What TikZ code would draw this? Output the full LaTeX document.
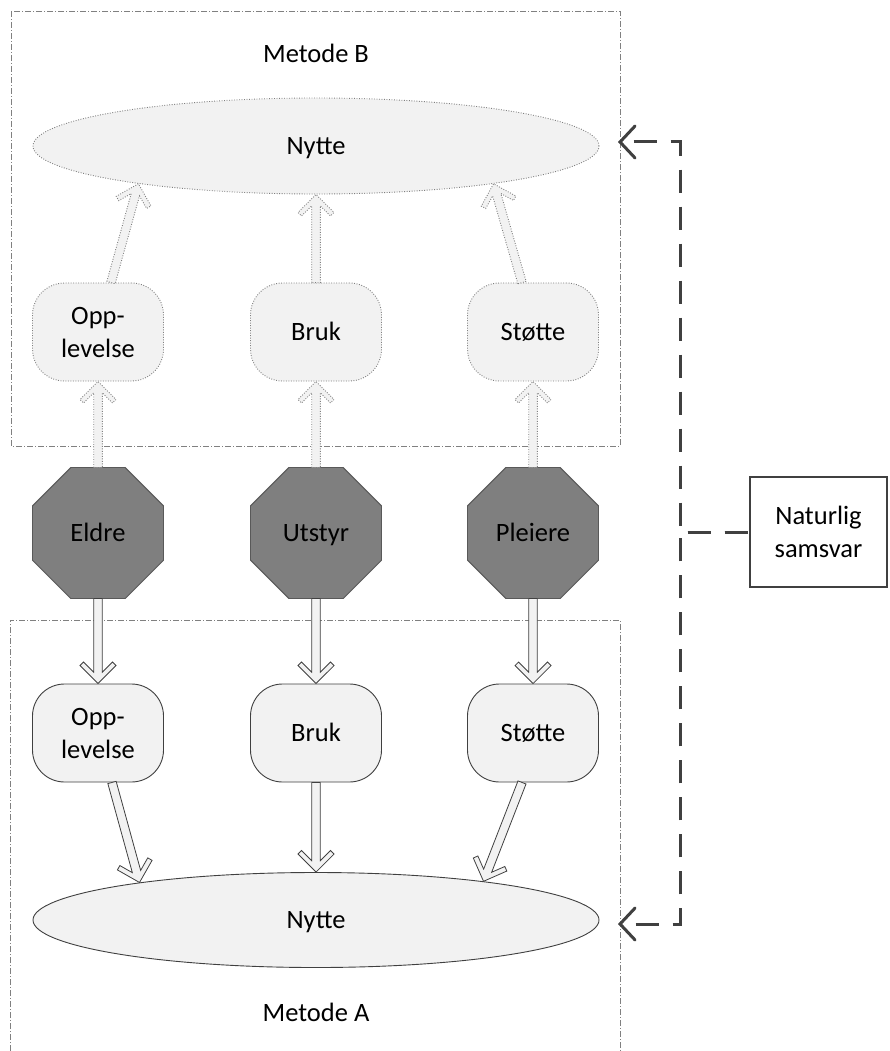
\documentclass[tikz,border=0pt]{standalone}
\usepackage{fontspec}
\setmainfont{Carlito}
\usetikzlibrary{shapes.geometric,arrows.meta,calc}
\definecolor{lightf}{HTML}{F2F2F2}
\definecolor{dk}{HTML}{404040}
\definecolor{octf}{HTML}{7F7F7F}
\definecolor{octd}{HTML}{595959}
\definecolor{dotc}{HTML}{7F7F7F}
\definecolor{boxc}{HTML}{808080}

\newcommand\blockarr[3]{%
  \path let \p1=(#2), \p2=(#3) in \pgfextra{%
    \pgfmathsetmacro\baAngT{atan2(\y2-\y1,\x2-\x1)}%
    \pgfmathsetmacro\baLenT{veclen(\x2-\x1,\y2-\y1)}%
    \xdef\baAng{\baAngT}\xdef\baLen{\baLenT}};
  \pgfmathsetmacro\bbB{\baLen-11.37}%
  \pgfmathsetmacro\bbC{\baLen-21.54}%
  \pgfmathsetmacro\bbD{\baLen-18}%
  \draw[#1, shift={(#2)}, rotate=\baAng]
    (0pt,4.3pt) -- (\bbB pt,4.3pt) -- (\bbC pt,14.46pt) -- (\bbD pt,18pt)
    -- (\baLen pt,0pt) -- (\bbD pt,-18pt) -- (\bbC pt,-14.46pt)
    -- (\bbB pt,-4.3pt) -- (0pt,-4.3pt) -- cycle;
}

\tikzset{
  txt/.style={text height=17pt, text depth=0pt},
  dotline/.style={draw=dotc, line width=0.9pt, dash pattern=on 0.9pt off 1.6pt},
  ellB/.style={ellipse, txt, fill=lightf, dotline, minimum width=566pt, minimum height=96pt, inner sep=0pt},
  ellA/.style={ellipse, txt, fill=lightf, draw=dk, line width=0.9pt, minimum width=566pt, minimum height=95pt, inner sep=0pt},
  rnodeB/.style={rectangle, align=center, rounded corners=32pt, fill=lightf, dotline, minimum width=131pt, minimum height=98pt, inner sep=0pt},
  rnodeA/.style={rectangle, align=center, rounded corners=32pt, fill=lightf, draw=dk, line width=0.9pt, minimum width=131pt, minimum height=98pt, inner sep=0pt},
  octnode/.style={regular polygon, txt, regular polygon sides=8, minimum size=141.8pt, inner sep=0pt, outer sep=0pt, fill=octf, draw=octd, line width=0.9pt},
  natbox/.style={rectangle, align=center, draw=dk, line width=2.2pt, minimum width=137pt, minimum height=110pt, inner sep=0pt},
  container/.style={draw=boxc, line width=0.8pt, dash pattern=on 6pt off 2pt on 1pt off 2pt},
  arrA/.style={fill=lightf, draw=dk, line width=0.8pt, line join=miter},
  arrB/.style={fill=lightf, dotline, line join=miter},
  dconn/.style={draw=dk, line width=3pt, dash pattern=on 23pt off 14pt},
  barb/.style={{Straight Barb[length=15pt, width=32pt, line cap=round]}-},
  lbl/.style={inner sep=0pt, txt}
}

\begin{document}
\begin{tikzpicture}[x=1pt, y=-1pt, font=\fontsize{26.5pt}{33pt}\selectfont]
\useasboundingbox (0,0) rectangle (889,1051);

% containers
\draw[container] (11,11) rectangle (620,446);
\draw[container] (10,1051) -- (10,620) -- (620,620) -- (620,1051);

% labels
\node[lbl] (metB) at (316,54.5) {Metode B};
\node[lbl] (metA) at (316,1013) {Metode A};

% nodes
\node[ellB] (nB) at (316,146) {Nytte};
\node[rnodeB] (oB) at (98,332) {Opp-\\levelse};
\node[rnodeB, txt] (bB) at (316,332) {Bruk};
\node[rnodeB, txt] (sB) at (533,332) {Støtte};

\node[octnode] (o1) at (98,533) {Eldre};
\node[octnode] (o2) at (316,533) {Utstyr};
\node[octnode] (o3) at (533,533) {Pleiere};

\node[rnodeA] (oA) at (98,733) {Opp-\\levelse};
\node[rnodeA, txt] (bA) at (316,733) {Bruk};
\node[rnodeA, txt] (sA) at (533,733) {Støtte};
\node[ellA] (nA) at (316,920) {Nytte};

\node[natbox] (nat) at (818.5,532) {Naturlig\\samsvar};

% helper coordinates
\coordinate (oBs) at ([xshift=13pt]oB.north);
\coordinate (sBs) at ([xshift=-11pt]sB.north);
\coordinate (oAs) at ([xshift=14pt]oA.south);
\coordinate (sAs) at ([xshift=-11pt]sA.south);
\coordinate (tB) at (618,142);
\coordinate (tA) at (618,924);
\coordinate (jn) at (680,532);

% top (method B) arrows
\blockarr{arrB}{o1.north}{oB.south}
\blockarr{arrB}{o2.north}{bB.south}
\blockarr{arrB}{o3.north}{sB.south}
\blockarr{arrB}{oBs}{nB.192.7}
\blockarr{arrB}{bB.north}{nB.south}
\blockarr{arrB}{sBs}{nB.348.3}

% bottom (method A) arrows
\blockarr{arrA}{o1.south}{oA.north}
\blockarr{arrA}{o2.south}{bA.north}
\blockarr{arrA}{o3.south}{sA.north}
\blockarr{arrA}{oAs}{nA.168}
\blockarr{arrA}{bA.south}{nA.north}
\blockarr{arrA}{sAs}{nA.13.3}

% dashed connectors
\draw[dconn, dash phase=25pt, barb] (tB) -| (jn) -- (nat.west);
\draw[dconn, dash phase=23pt, barb] (tA) -| (jn) -- (nat.west);
\end{tikzpicture}
\end{document}
